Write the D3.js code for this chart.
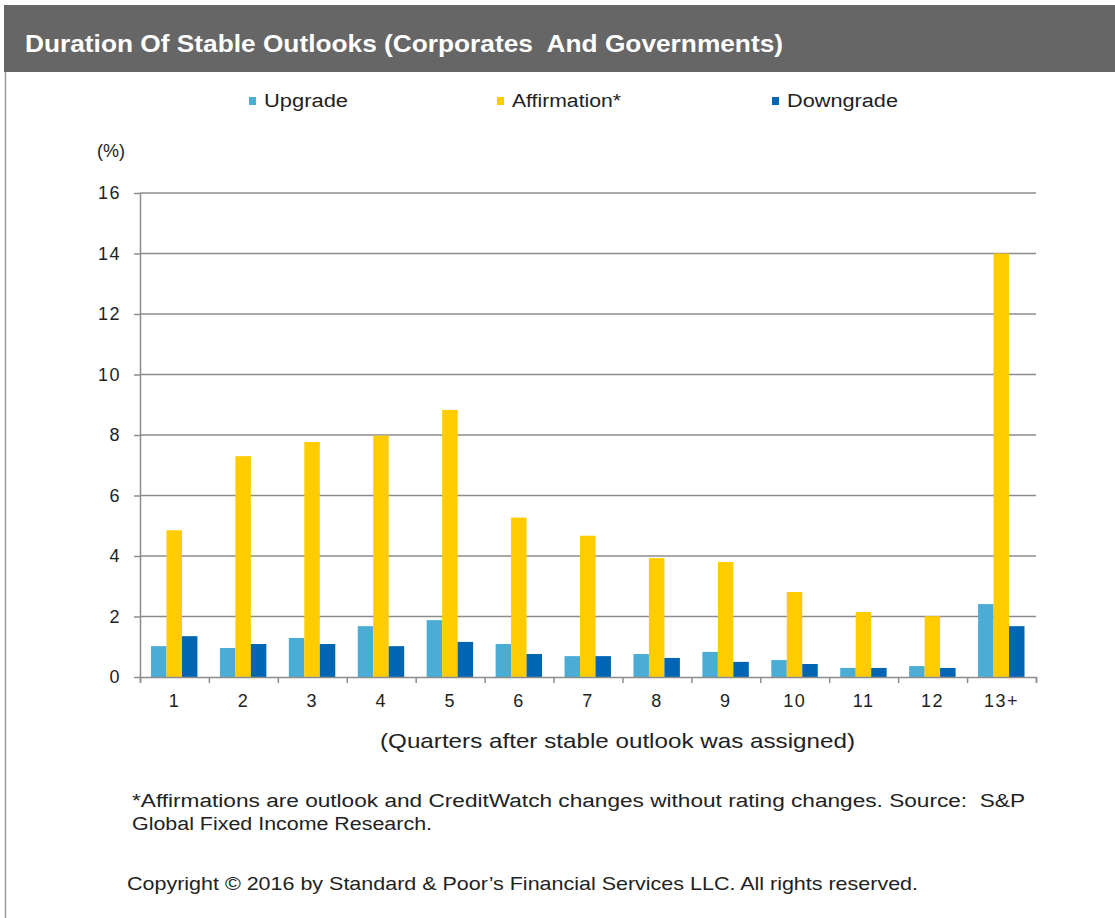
<!DOCTYPE html>
<html>
<head>
<meta charset="utf-8">
<script src="https://cdn.jsdelivr.net/npm/d3@7"></script>
<style>
    body { margin: 0; background: #fff; }
    svg text { font-family: "Liberation Sans Narrow", "Arial Narrow", "Liberation Sans", Arial, sans-serif; fill: #222; white-space: pre; }
</style>
</head>
<body>
<svg id="chart"></svg>
<script>
const categories = ['1', '2', '3', '4', '5', '6', '7', '8', '9', '10', '11', '12', '13+'];
const series = ['Upgrade', 'Affirmation*', 'Downgrade'];
const upgrade = [1.02, 0.96, 1.29, 1.68, 1.88, 1.09, 0.69, 0.76, 0.83, 0.56, 0.30, 0.36, 2.41];
const affirmation = [4.85, 7.30, 7.77, 7.98, 8.83, 5.27, 4.67, 3.93, 3.80, 2.81, 2.15, 2.01, 14.0];
const downgrade = [1.35, 1.09, 1.09, 1.02, 1.16, 0.76, 0.69, 0.63, 0.50, 0.43, 0.30, 0.30, 1.68];
const yticks = [0, 2, 4, 6, 8, 10, 12, 14, 16];
const colors = ['#4bacd6', '#ffcc00', '#0066b3'];

class BarChart {
    constructor (config, data) {
        this.config = {
            parent: config.parent,
            width: config.width || 256,
            height: config.height || 256,
            margin: config.margin || {top:10, right:10, bottom:10, left:10},
            xlabel: config.xlabel || '',
            title: config.title || ''
        };
        this.data = data;
        this.init();
    }

    init() {
        let self = this;

        self.svg = d3.select(self.config.parent)
            .attr('width', self.config.width)
            .attr('height', self.config.height);

        // frame + title band
        self.svg.append('line')
            .attr('x1', 5.5).attr('x2', 5.5)
            .attr('y1', 5).attr('y2', self.config.height)
            .attr('stroke', '#9a9a9a').attr('stroke-width', 1.5);

        self.svg.append('rect')
            .attr('x', 4).attr('y', 5)
            .attr('width', self.config.width - 4).attr('height', 67)
            .attr('fill', '#666666');

        self.svg.append('text')
            .attr('x', 25).attr('y', 52)
            .attr('textLength', 758).attr('lengthAdjust', 'spacingAndGlyphs')
            .style('font-size', '23px')
            .style('font-weight', 'bold')
            .style('fill', '#ffffff')
            .text(self.config.title);

        self.chart = self.svg.append('g')
            .attr('transform', `translate(${self.config.margin.left}, ${self.config.margin.top})`);

        self.inner_width = self.config.width - self.config.margin.left - self.config.margin.right;
        self.inner_height = self.config.height - self.config.margin.top - self.config.margin.bottom;

        self.xscale = d3.scaleBand()
            .domain(categories)
            .range([0, self.inner_width])
            .padding(0);

        self.xsub = d3.scaleBand()
            .domain(series)
            .range([11, self.xscale.bandwidth() - 11.5]);

        self.yscale = d3.scaleLinear()
            .domain([0, 16])
            .range([self.inner_height, 0]);

        // legend
        const legend_x = [249, 497, 772];
        const legend_w = [84, 109, 111];
        const legend = self.svg.append('g');
        series.forEach((s, i) => {
            legend.append('rect')
                .attr('x', legend_x[i]).attr('y', 97)
                .attr('width', 7).attr('height', 8)
                .attr('fill', colors[i]);
            legend.append('text')
                .attr('x', legend_x[i] + 15).attr('y', 107)
                .attr('textLength', legend_w[i]).attr('lengthAdjust', 'spacingAndGlyphs')
                .style('font-size', '18px')
                .text(s);
        });

        self.svg.append('text')
            .attr('x', 97).attr('y', 157)
            .style('font-size', '18px')
            .style('font-family', '"Liberation Sans", Arial, sans-serif')
            .text('(%)');

        self.svg.append('text')
            .attr('x', 380).attr('y', 748)
            .attr('textLength', 475).attr('lengthAdjust', 'spacingAndGlyphs')
            .style('font-size', '21px')
            .text(self.config.xlabel);

        const notes = self.svg.append('g');
        notes.append('text')
            .attr('x', 132).attr('y', 807)
            .attr('textLength', 893).attr('lengthAdjust', 'spacingAndGlyphs')
            .style('font-size', '18px')
            .text('*Affirmations are outlook and CreditWatch changes without rating changes. Source:  S&P');
        notes.append('text')
            .attr('x', 132).attr('y', 830)
            .attr('textLength', 300).attr('lengthAdjust', 'spacingAndGlyphs')
            .style('font-size', '18px')
            .text('Global Fixed Income Research.');
        notes.append('text')
            .attr('x', 127).attr('y', 890)
            .attr('textLength', 791).attr('lengthAdjust', 'spacingAndGlyphs')
            .style('font-size', '19px')
            .text('Copyright \u00a9 2016 by Standard & Poor\u2019s Financial Services LLC. All rights reserved.');
    }

    render() {
        let self = this;

        // gridlines
        self.chart.append('g')
            .selectAll('line')
            .data(yticks.filter(d => d > 0))
            .join('line')
            .attr('x1', 0).attr('x2', self.inner_width)
            .attr('y1', d => self.yscale(d)).attr('y2', d => self.yscale(d))
            .attr('stroke', '#8c8c8c').attr('stroke-width', 1.5);

        const rows = categories.map((c, i) => ({
            cat: c,
            vals: [upgrade[i], affirmation[i], downgrade[i]]
        }));

        self.chart.append('g')
            .selectAll('g')
            .data(rows)
            .join('g')
            .attr('transform', d => `translate(${self.xscale(d.cat)}, 0)`)
            .selectAll('rect')
            .data(d => d.vals.map((v, i) => ({key: series[i], value: v, idx: i})))
            .join('rect')
            .attr('x', d => self.xsub(d.key))
            .attr('y', d => self.yscale(d.value))
            .attr('width', self.xsub.bandwidth())
            .attr('height', d => self.inner_height - self.yscale(d.value))
            .attr('fill', d => colors[d.idx]);

        // y axis
        self.yaxis = d3.axisLeft(self.yscale)
            .tickValues(yticks)
            .tickSize(6)
            .tickPadding(13)
            .tickSizeOuter(0);
        self.yaxis_group = self.chart.append('g').call(self.yaxis);
        self.yaxis_group.select('.domain').attr('stroke', '#8c8c8c').attr('stroke-width', 1.5);
        self.yaxis_group.selectAll('.tick line').attr('stroke', '#8c8c8c').attr('stroke-width', 1.5);
        self.yaxis_group.selectAll('text')
            .style('font-size', '18px')
            .style('font-family', '"Liberation Sans", Arial, sans-serif')
            .style('letter-spacing', '1.5px')
            .attr('fill', '#222');

        // x axis: boundary ticks
        const xbound = d3.scaleLinear().domain([0, categories.length]).range([0, self.inner_width]);
        self.xtick_group = self.chart.append('g')
            .attr('transform', `translate(0, ${self.inner_height})`)
            .call(d3.axisBottom(xbound).ticks(categories.length).tickSize(6).tickSizeOuter(6).tickFormat(''));
        self.xtick_group.select('.domain').attr('stroke', '#8c8c8c').attr('stroke-width', 1.5);
        self.xtick_group.selectAll('.tick line').attr('stroke', '#8c8c8c').attr('stroke-width', 1.5);

        // x axis labels
        self.xaxis_group = self.chart.append('g')
            .attr('transform', `translate(0, ${self.inner_height})`)
            .call(d3.axisBottom(self.xscale).tickSize(0).tickPadding(17));
        self.xaxis_group.select('.domain').remove();
        self.xaxis_group.selectAll('text')
            .style('font-size', '18px')
            .style('font-family', '"Liberation Sans", Arial, sans-serif')
            .style('letter-spacing', '1.5px')
            .attr('fill', '#222');
    }
}

const chart = new BarChart({
    parent: '#chart',
    width: 1115,
    height: 918,
    margin: {top: 193, right: 79, bottom: 241, left: 140},
    xlabel: '(Quarters after stable outlook was assigned)',
    title: 'Duration Of Stable Outlooks (Corporates  And Governments)'
}, categories);
chart.render();
</script>
</body>
</html>
